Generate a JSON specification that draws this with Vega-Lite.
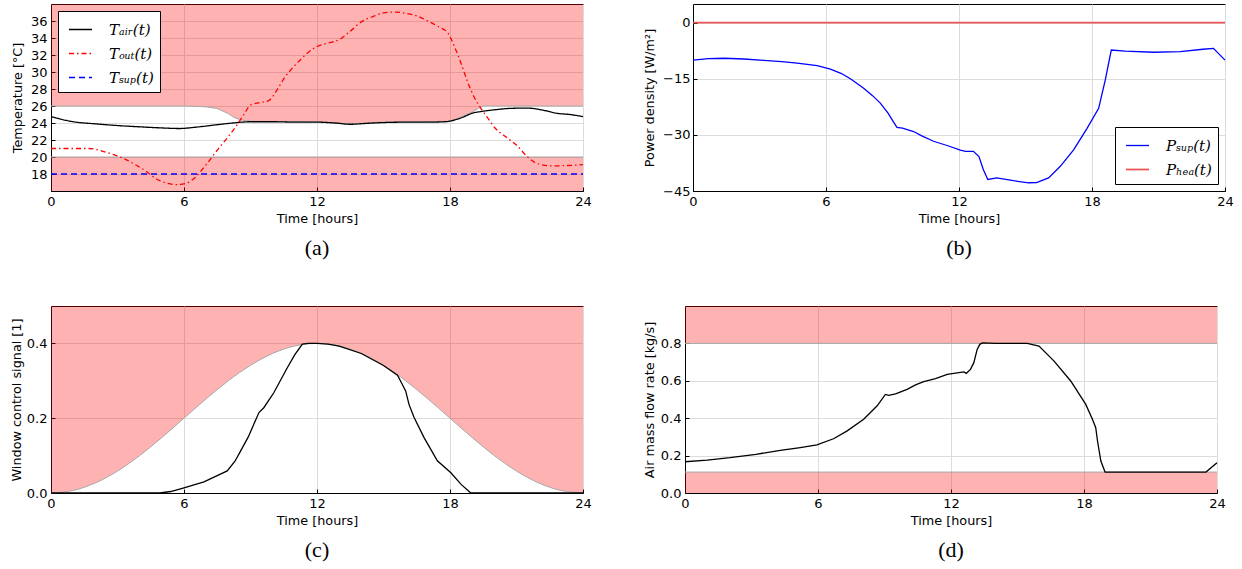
{
  "$schema": "https://vega.github.io/schema/vega-lite/v6.json",
  "padding": {"left": 9, "top": 3, "right": 5, "bottom": 0},
  "background": "white",
  "config": {
    "font": "DejaVu Sans",
    "view": {"stroke": "black", "strokeWidth": 1},
    "axis": {
      "domainColor": "black", "domainWidth": 1,
      "gridColor": "#dcdcdc", "gridWidth": 1,
      "ticks": true, "tickSize": -4, "tickColor": "black", "tickWidth": 1,
      "labelFontSize": 13, "labelColor": "black", "labelPadding": 8,
      "labelFlush": false, "labelOverlap": false, "labelBound": false, "labelSeparation": 0,
      "titleFontSize": 12.8, "titleFontWeight": "normal", "titleColor": "black"
    },
    "axisY": {"labelOverlap": false},
    "axisX": {"titlePadding": 4},
    "title": {"font": "Liberation Serif", "fontSize": 22, "fontWeight": "normal", "orient": "bottom", "anchor": "middle", "offset": 13, "color": "black"},
    "legend": {
      "fillColor": "white", "strokeColor": "black", "padding": 6,
      "labelFont": "DejaVu Serif", "labelFontStyle": "italic", "labelFontSize": 15,
      "symbolType": "stroke", "symbolSize": 530, "symbolStrokeWidth": 1.3, "symbolOffset": 4,
      "rowPadding": 3, "labelOffset": 16, "labelColor": "black"
    }
  },
  "resolve": {"scale": {"color": "independent", "strokeDash": "independent", "strokeWidth": "independent"}, "legend": {"color": "independent", "strokeDash": "independent"}},
  "datasets": {
    "a_upper": [
      {"hour": 0, "lo": 26}, {"hour": 6, "lo": 26}, {"hour": 7, "lo": 25.9}, {"hour": 7.5, "lo": 25.7},
      {"hour": 8, "lo": 25.1}, {"hour": 8.3, "lo": 24.6}, {"hour": 8.6, "lo": 24.35}, {"hour": 9, "lo": 24.2},
      {"hour": 12, "lo": 24.15}, {"hour": 13.5, "lo": 23.9}, {"hour": 15, "lo": 24.1}, {"hour": 18, "lo": 24.2},
      {"hour": 18.5, "lo": 24.7}, {"hour": 19, "lo": 25.3}, {"hour": 19.3, "lo": 25.75}, {"hour": 19.5, "lo": 26},
      {"hour": 24, "lo": 26}
    ],
    "a_lower": [{"hour": 0, "lo": 16, "hi": 20}, {"hour": 24, "lo": 16, "hi": 20}],
    "a_lines": [
      {"hour": 0, "value": 24.75, "series": "Tₐᵢᵣ(t)"}, {"hour": 1, "value": 24.15, "series": "Tₐᵢᵣ(t)"},
      {"hour": 2, "value": 23.9, "series": "Tₐᵢᵣ(t)"}, {"hour": 3, "value": 23.7, "series": "Tₐᵢᵣ(t)"},
      {"hour": 4, "value": 23.55, "series": "Tₐᵢᵣ(t)"}, {"hour": 5, "value": 23.42, "series": "Tₐᵢᵣ(t)"},
      {"hour": 5.8, "value": 23.35, "series": "Tₐᵢᵣ(t)"}, {"hour": 6.5, "value": 23.5, "series": "Tₐᵢᵣ(t)"},
      {"hour": 7.5, "value": 23.8, "series": "Tₐᵢᵣ(t)"}, {"hour": 8.2, "value": 24.0, "series": "Tₐᵢᵣ(t)"},
      {"hour": 9, "value": 24.15, "series": "Tₐᵢᵣ(t)"}, {"hour": 10, "value": 24.15, "series": "Tₐᵢᵣ(t)"},
      {"hour": 11, "value": 24.1, "series": "Tₐᵢᵣ(t)"}, {"hour": 12, "value": 24.1, "series": "Tₐᵢᵣ(t)"},
      {"hour": 12.8, "value": 24.0, "series": "Tₐᵢᵣ(t)"}, {"hour": 13.5, "value": 23.85, "series": "Tₐᵢᵣ(t)"},
      {"hour": 14.2, "value": 23.95, "series": "Tₐᵢᵣ(t)"}, {"hour": 15, "value": 24.05, "series": "Tₐᵢᵣ(t)"},
      {"hour": 16, "value": 24.1, "series": "Tₐᵢᵣ(t)"}, {"hour": 17, "value": 24.1, "series": "Tₐᵢᵣ(t)"},
      {"hour": 17.8, "value": 24.15, "series": "Tₐᵢᵣ(t)"}, {"hour": 18.2, "value": 24.35, "series": "Tₐᵢᵣ(t)"},
      {"hour": 18.6, "value": 24.7, "series": "Tₐᵢᵣ(t)"}, {"hour": 19, "value": 25.15, "series": "Tₐᵢᵣ(t)"},
      {"hour": 19.4, "value": 25.35, "series": "Tₐᵢᵣ(t)"}, {"hour": 20, "value": 25.55, "series": "Tₐᵢᵣ(t)"},
      {"hour": 20.8, "value": 25.73, "series": "Tₐᵢᵣ(t)"}, {"hour": 21.5, "value": 25.75, "series": "Tₐᵢᵣ(t)"},
      {"hour": 22.3, "value": 25.45, "series": "Tₐᵢᵣ(t)"}, {"hour": 22.8, "value": 25.15, "series": "Tₐᵢᵣ(t)"},
      {"hour": 23.4, "value": 25.0, "series": "Tₐᵢᵣ(t)"}, {"hour": 24, "value": 24.75, "series": "Tₐᵢᵣ(t)"},
      {"hour": 0, "value": 21.0, "series": "Tₒᵤₜ(t)"}, {"hour": 1, "value": 21.0, "series": "Tₒᵤₜ(t)"},
      {"hour": 1.7, "value": 21.0, "series": "Tₒᵤₜ(t)"}, {"hour": 2.3, "value": 20.7, "series": "Tₒᵤₜ(t)"},
      {"hour": 2.8, "value": 20.3, "series": "Tₒᵤₜ(t)"}, {"hour": 3.3, "value": 19.8, "series": "Tₒᵤₜ(t)"},
      {"hour": 3.8, "value": 19.1, "series": "Tₒᵤₜ(t)"}, {"hour": 4.3, "value": 18.3, "series": "Tₒᵤₜ(t)"},
      {"hour": 4.7, "value": 17.5, "series": "Tₒᵤₜ(t)"}, {"hour": 5.2, "value": 16.95, "series": "Tₒᵤₜ(t)"},
      {"hour": 5.7, "value": 16.75, "series": "Tₒᵤₜ(t)"}, {"hour": 6.1, "value": 16.9, "series": "Tₒᵤₜ(t)"},
      {"hour": 6.5, "value": 17.6, "series": "Tₒᵤₜ(t)"}, {"hour": 7.0, "value": 19.1, "series": "Tₒᵤₜ(t)"},
      {"hour": 7.5, "value": 20.8, "series": "Tₒᵤₜ(t)"}, {"hour": 8.0, "value": 22.4, "series": "Tₒᵤₜ(t)"},
      {"hour": 8.4, "value": 23.8, "series": "Tₒᵤₜ(t)"}, {"hour": 8.7, "value": 25.0, "series": "Tₒᵤₜ(t)"},
      {"hour": 9.0, "value": 26.1, "series": "Tₒᵤₜ(t)"}, {"hour": 9.4, "value": 26.4, "series": "Tₒᵤₜ(t)"},
      {"hour": 9.8, "value": 26.6, "series": "Tₒᵤₜ(t)"}, {"hour": 10.2, "value": 27.9, "series": "Tₒᵤₜ(t)"},
      {"hour": 10.5, "value": 29.2, "series": "Tₒᵤₜ(t)"}, {"hour": 10.8, "value": 30.2, "series": "Tₒᵤₜ(t)"},
      {"hour": 11.2, "value": 31.3, "series": "Tₒᵤₜ(t)"}, {"hour": 11.6, "value": 32.3, "series": "Tₒᵤₜ(t)"},
      {"hour": 12.0, "value": 33.0, "series": "Tₒᵤₜ(t)"}, {"hour": 12.5, "value": 33.4, "series": "Tₒᵤₜ(t)"},
      {"hour": 13.0, "value": 33.8, "series": "Tₒᵤₜ(t)"}, {"hour": 13.5, "value": 34.8, "series": "Tₒᵤₜ(t)"},
      {"hour": 14.0, "value": 35.9, "series": "Tₒᵤₜ(t)"}, {"hour": 14.5, "value": 36.5, "series": "Tₒᵤₜ(t)"},
      {"hour": 15.0, "value": 36.95, "series": "Tₒᵤₜ(t)"}, {"hour": 15.5, "value": 37.05, "series": "Tₒᵤₜ(t)"},
      {"hour": 16.0, "value": 36.9, "series": "Tₒᵤₜ(t)"}, {"hour": 16.5, "value": 36.6, "series": "Tₒᵤₜ(t)"},
      {"hour": 17.0, "value": 36.0, "series": "Tₒᵤₜ(t)"}, {"hour": 17.5, "value": 35.3, "series": "Tₒᵤₜ(t)"},
      {"hour": 17.9, "value": 34.6, "series": "Tₒᵤₜ(t)"}, {"hour": 18.2, "value": 33.0, "series": "Tₒᵤₜ(t)"},
      {"hour": 18.5, "value": 31.0, "series": "Tₒᵤₜ(t)"}, {"hour": 18.8, "value": 28.8, "series": "Tₒᵤₜ(t)"},
      {"hour": 19.1, "value": 27.0, "series": "Tₒᵤₜ(t)"}, {"hour": 19.4, "value": 25.7, "series": "Tₒᵤₜ(t)"},
      {"hour": 19.7, "value": 24.6, "series": "Tₒᵤₜ(t)"}, {"hour": 20.0, "value": 23.5, "series": "Tₒᵤₜ(t)"},
      {"hour": 20.5, "value": 22.4, "series": "Tₒᵤₜ(t)"}, {"hour": 21.0, "value": 21.4, "series": "Tₒᵤₜ(t)"},
      {"hour": 21.5, "value": 20.0, "series": "Tₒᵤₜ(t)"}, {"hour": 21.8, "value": 19.4, "series": "Tₒᵤₜ(t)"},
      {"hour": 22.2, "value": 19.05, "series": "Tₒᵤₜ(t)"}, {"hour": 22.7, "value": 18.95, "series": "Tₒᵤₜ(t)"},
      {"hour": 23.3, "value": 19.0, "series": "Tₒᵤₜ(t)"}, {"hour": 24.0, "value": 19.1, "series": "Tₒᵤₜ(t)"},
      {"hour": 0, "value": 18, "series": "Tₛᵤₚ(t)"}, {"hour": 24, "value": 18, "series": "Tₛᵤₚ(t)"}
    ],
    "b_lines": [
      {"hour": 0, "value": -10.0, "series": "Pₛᵤₚ(t)"}, {"hour": 0.7, "value": -9.6, "series": "Pₛᵤₚ(t)"},
      {"hour": 1.4, "value": -9.5, "series": "Pₛᵤₚ(t)"}, {"hour": 2.3, "value": -9.7, "series": "Pₛᵤₚ(t)"},
      {"hour": 3.2, "value": -10.1, "series": "Pₛᵤₚ(t)"}, {"hour": 4.0, "value": -10.4, "series": "Pₛᵤₚ(t)"},
      {"hour": 4.7, "value": -10.8, "series": "Pₛᵤₚ(t)"}, {"hour": 5.6, "value": -11.5, "series": "Pₛᵤₚ(t)"},
      {"hour": 6.2, "value": -12.4, "series": "Pₛᵤₚ(t)"}, {"hour": 6.7, "value": -13.6, "series": "Pₛᵤₚ(t)"},
      {"hour": 7.1, "value": -15.0, "series": "Pₛᵤₚ(t)"}, {"hour": 7.7, "value": -17.5, "series": "Pₛᵤₚ(t)"},
      {"hour": 8.1, "value": -19.5, "series": "Pₛᵤₚ(t)"}, {"hour": 8.45, "value": -21.5, "series": "Pₛᵤₚ(t)"},
      {"hour": 8.8, "value": -24.2, "series": "Pₛᵤₚ(t)"}, {"hour": 9.05, "value": -26.6, "series": "Pₛᵤₚ(t)"},
      {"hour": 9.2, "value": -28.0, "series": "Pₛᵤₚ(t)"}, {"hour": 9.45, "value": -28.2, "series": "Pₛᵤₚ(t)"},
      {"hour": 9.95, "value": -29.1, "series": "Pₛᵤₚ(t)"}, {"hour": 10.3, "value": -30.2, "series": "Pₛᵤₚ(t)"},
      {"hour": 10.85, "value": -31.7, "series": "Pₛᵤₚ(t)"}, {"hour": 11.5, "value": -32.9, "series": "Pₛᵤₚ(t)"},
      {"hour": 12.06, "value": -34.1, "series": "Pₛᵤₚ(t)"}, {"hour": 12.3, "value": -34.4, "series": "Pₛᵤₚ(t)"},
      {"hour": 12.65, "value": -34.4, "series": "Pₛᵤₚ(t)"}, {"hour": 12.9, "value": -35.8, "series": "Pₛᵤₚ(t)"},
      {"hour": 13.1, "value": -39.3, "series": "Pₛᵤₚ(t)"}, {"hour": 13.3, "value": -41.9, "series": "Pₛᵤₚ(t)"},
      {"hour": 13.7, "value": -41.5, "series": "Pₛᵤₚ(t)"}, {"hour": 14.46, "value": -42.25, "series": "Pₛᵤₚ(t)"},
      {"hour": 15.14, "value": -42.8, "series": "Pₛᵤₚ(t)"}, {"hour": 15.5, "value": -42.75, "series": "Pₛᵤₚ(t)"},
      {"hour": 16.04, "value": -41.5, "series": "Pₛᵤₚ(t)"}, {"hour": 16.57, "value": -38.4, "series": "Pₛᵤₚ(t)"},
      {"hour": 17.17, "value": -34.0, "series": "Pₛᵤₚ(t)"}, {"hour": 17.77, "value": -28.3, "series": "Pₛᵤₚ(t)"},
      {"hour": 18.3, "value": -22.9, "series": "Pₛᵤₚ(t)"}, {"hour": 18.6, "value": -15.3, "series": "Pₛᵤₚ(t)"},
      {"hour": 18.87, "value": -7.3, "series": "Pₛᵤₚ(t)"}, {"hour": 19.5, "value": -7.6, "series": "Pₛᵤₚ(t)"},
      {"hour": 20.78, "value": -7.9, "series": "Pₛᵤₚ(t)"}, {"hour": 21.98, "value": -7.75, "series": "Pₛᵤₚ(t)"},
      {"hour": 23.0, "value": -7.1, "series": "Pₛᵤₚ(t)"}, {"hour": 23.48, "value": -6.85, "series": "Pₛᵤₚ(t)"},
      {"hour": 24.0, "value": -10.0, "series": "Pₛᵤₚ(t)"},
      {"hour": 0, "value": 0, "series": "Pₕₑₐ(t)"}, {"hour": 24, "value": 0, "series": "Pₕₑₐ(t)"}
    ],
    "c_bound": [
      {"hour": 0, "lo": 0}, {"hour": 1, "lo": 0.0068}, {"hour": 2, "lo": 0.0268}, {"hour": 3, "lo": 0.0586},
      {"hour": 4, "lo": 0.1}, {"hour": 5, "lo": 0.1482}, {"hour": 6, "lo": 0.2}, {"hour": 7, "lo": 0.2518},
      {"hour": 8, "lo": 0.3}, {"hour": 9, "lo": 0.3414}, {"hour": 10, "lo": 0.3732}, {"hour": 11, "lo": 0.3932},
      {"hour": 12, "lo": 0.4}, {"hour": 13, "lo": 0.3932}, {"hour": 14, "lo": 0.3732}, {"hour": 15, "lo": 0.3414},
      {"hour": 16, "lo": 0.3}, {"hour": 17, "lo": 0.2518}, {"hour": 18, "lo": 0.2}, {"hour": 19, "lo": 0.1482},
      {"hour": 20, "lo": 0.1}, {"hour": 21, "lo": 0.0586}, {"hour": 22, "lo": 0.0268}, {"hour": 23, "lo": 0.0068},
      {"hour": 24, "lo": 0}
    ],
    "c_line": [
      {"hour": 0, "value": 0}, {"hour": 4.9, "value": 0}, {"hour": 5.4, "value": 0.004}, {"hour": 6.0, "value": 0.014},
      {"hour": 6.9, "value": 0.03}, {"hour": 7.95, "value": 0.059}, {"hour": 8.3, "value": 0.085}, {"hour": 8.55, "value": 0.112},
      {"hour": 8.9, "value": 0.15}, {"hour": 9.15, "value": 0.184}, {"hour": 9.38, "value": 0.215}, {"hour": 9.6, "value": 0.228},
      {"hour": 10.05, "value": 0.268}, {"hour": 10.66, "value": 0.335}, {"hour": 11.0, "value": 0.37}, {"hour": 11.34, "value": 0.398},
      {"hour": 11.6, "value": 0.4}, {"hour": 12.0, "value": 0.4}, {"hour": 12.5, "value": 0.398}, {"hour": 13, "value": 0.393},
      {"hour": 14, "value": 0.373}, {"hour": 15, "value": 0.341}, {"hour": 15.63, "value": 0.315}, {"hour": 15.85, "value": 0.29},
      {"hour": 16.0, "value": 0.273}, {"hour": 16.15, "value": 0.237}, {"hour": 16.38, "value": 0.202}, {"hour": 16.83, "value": 0.148},
      {"hour": 17.43, "value": 0.086}, {"hour": 18.04, "value": 0.054}, {"hour": 18.5, "value": 0.023}, {"hour": 18.94, "value": 0},
      {"hour": 24, "value": 0}
    ],
    "d_bands": [
      {"hour": 0, "lo": 0.8, "hi": 1.0, "band": "upper"}, {"hour": 24, "lo": 0.8, "hi": 1.0, "band": "upper"},
      {"hour": 0, "lo": 0.112, "hi": 0, "band": "lower"}, {"hour": 24, "lo": 0.112, "hi": 0, "band": "lower"}
    ],
    "d_line": [
      {"hour": 0, "value": 0.167}, {"hour": 1, "value": 0.176}, {"hour": 2.03, "value": 0.189}, {"hour": 3.2, "value": 0.207},
      {"hour": 4.3, "value": 0.228}, {"hour": 5.2, "value": 0.243}, {"hour": 5.95, "value": 0.257}, {"hour": 6.7, "value": 0.29},
      {"hour": 7.3, "value": 0.331}, {"hour": 8.06, "value": 0.394}, {"hour": 8.66, "value": 0.465}, {"hour": 9.04, "value": 0.527},
      {"hour": 9.19, "value": 0.522}, {"hour": 9.5, "value": 0.53}, {"hour": 10.02, "value": 0.554}, {"hour": 10.4, "value": 0.578},
      {"hour": 10.77, "value": 0.595}, {"hour": 11.3, "value": 0.612}, {"hour": 11.83, "value": 0.634}, {"hour": 12.05, "value": 0.638},
      {"hour": 12.58, "value": 0.648}, {"hour": 12.69, "value": 0.64}, {"hour": 12.88, "value": 0.661}, {"hour": 13.03, "value": 0.697},
      {"hour": 13.18, "value": 0.768}, {"hour": 13.3, "value": 0.795}, {"hour": 13.41, "value": 0.803}, {"hour": 14, "value": 0.8},
      {"hour": 15.44, "value": 0.8}, {"hour": 15.97, "value": 0.786}, {"hour": 16.65, "value": 0.705}, {"hour": 17.4, "value": 0.599},
      {"hour": 18.08, "value": 0.474}, {"hour": 18.38, "value": 0.394}, {"hour": 18.53, "value": 0.349}, {"hour": 18.61, "value": 0.278},
      {"hour": 18.76, "value": 0.171}, {"hour": 18.95, "value": 0.112}, {"hour": 23.5, "value": 0.112}, {"hour": 24, "value": 0.162}
    ]
  },
  "spacing": 45,
  "vconcat": [
    {
      "spacing": 51,
      "resolve": {"scale": {"color": "independent", "strokeDash": "independent", "strokeWidth": "independent"}, "legend": {"color": "independent", "strokeDash": "independent"}},
      "hconcat": [
        {
          "width": 532, "height": 187,
          "title": "(a)",
          "layer": [
            {
              "data": {"name": "a_upper"},
              "mark": {"type": "area", "color": "#ff0000", "fillOpacity": 0.3, "line": {"color": "#a8a8a8", "strokeWidth": 1}},
              "encoding": {
                "x": {"field": "hour", "type": "quantitative", "scale": {"domain": [0, 24]}, "axis": {"values": [0, 6, 12, 18, 24], "title": "Time [hours]"}},
                "y": {"field": "lo", "type": "quantitative", "scale": {"domain": [16, 38]}, "axis": {"values": [18, 20, 22, 24, 26, 28, 30, 32, 34, 36], "labelOverlap": false, "title": "Temperature [°C]", "titlePadding": 6}},
                "y2": {"datum": 38}
              }
            },
            {
              "data": {"name": "a_lower"},
              "mark": {"type": "area", "color": "#ff0000", "fillOpacity": 0.3, "line": {"color": "#a8a8a8", "strokeWidth": 1}},
              "encoding": {
                "x": {"field": "hour", "type": "quantitative"},
                "y": {"field": "hi", "type": "quantitative", "axis": {"values": [18, 20, 22, 24, 26, 28, 30, 32, 34, 36], "labelOverlap": false, "title": "Temperature [°C]", "titlePadding": 6}},
                "y2": {"field": "lo"}
              }
            },
            {
              "data": {"name": "a_lines"},
              "mark": {"type": "line", "strokeWidth": 1.3, "interpolate": "monotone"},
              "encoding": {
                "x": {"field": "hour", "type": "quantitative"},
                "y": {"field": "value", "type": "quantitative", "axis": {"values": [18, 20, 22, 24, 26, 28, 30, 32, 34, 36], "labelOverlap": false, "title": "Temperature [°C]", "titlePadding": 6}},
                "order": {"field": "hour"},
                "color": {"field": "series", "type": "nominal", "scale": {"domain": ["Tₐᵢᵣ(t)", "Tₒᵤₜ(t)", "Tₛᵤₚ(t)"], "range": ["#000000", "#ff0000", "#0000ff"]}, "legend": {"orient": "top-left", "offset": 7, "title": null}},
                "strokeDash": {"field": "series", "type": "nominal", "scale": {"domain": ["Tₐᵢᵣ(t)", "Tₒᵤₜ(t)", "Tₛᵤₚ(t)"], "range": [[1, 0], [5, 3, 1.5, 3], [6, 4]]}, "legend": {"orient": "top-left", "offset": 7, "title": null}}
              }
            }
          ]
        },
        {
          "width": 532, "height": 187,
          "title": "(b)",
          "layer": [
            {
              "data": {"name": "b_lines"},
              "mark": {"type": "line"},
              "encoding": {
                "x": {"field": "hour", "type": "quantitative", "scale": {"domain": [0, 24]}, "axis": {"values": [0, 6, 12, 18, 24], "title": "Time [hours]"}},
                "y": {"field": "value", "type": "quantitative", "scale": {"domain": [-45, 5]}, "axis": {"values": [-45, -30, -15, 0], "labelOverlap": false, "title": "Power density [W/m²]", "labelPadding": 7, "titlePadding": 6}},
                "order": {"field": "hour"},
                "color": {"field": "series", "type": "nominal", "scale": {"domain": ["Pₛᵤₚ(t)", "Pₕₑₐ(t)"], "range": ["#0000ff", "#ec5656"]}, "legend": {"orient": "bottom-right", "offset": 7, "title": null}},
                "strokeWidth": {"field": "series", "type": "nominal", "scale": {"domain": ["Pₛᵤₚ(t)", "Pₕₑₐ(t)"], "range": [1.3, 1.8]}, "legend": null}
              }
            }
          ]
        }
      ]
    },
    {
      "spacing": 50,
      "resolve": {"scale": {"color": "independent", "strokeDash": "independent"}},
      "hconcat": [
        {
          "width": 532, "height": 187,
          "title": "(c)",
          "layer": [
            {
              "data": {"name": "c_bound"},
              "mark": {"type": "area", "color": "#ff0000", "fillOpacity": 0.3, "interpolate": "monotone", "line": {"color": "#a8a8a8", "strokeWidth": 1}},
              "encoding": {
                "x": {"field": "hour", "type": "quantitative", "scale": {"domain": [0, 24]}, "axis": {"values": [0, 6, 12, 18, 24], "title": "Time [hours]"}},
                "y": {"field": "lo", "type": "quantitative", "scale": {"domain": [0, 0.5]}, "axis": {"values": [0, 0.2, 0.4], "format": ".1f", "title": "Window control signal [1]", "titlePadding": 3}},
                "y2": {"datum": 0.5}
              }
            },
            {
              "data": {"name": "c_line"},
              "mark": {"type": "line", "strokeWidth": 1.3, "color": "black"},
              "encoding": {
                "x": {"field": "hour", "type": "quantitative"},
                "y": {"field": "value", "type": "quantitative"},
                "order": {"field": "hour"}
              }
            }
          ]
        },
        {
          "width": 532, "height": 187,
          "title": "(d)",
          "layer": [
            {
              "data": {"name": "d_bands"},
              "mark": {"type": "area", "color": "#ff0000", "fillOpacity": 0.3, "line": {"color": "#a8a8a8", "strokeWidth": 1}},
              "encoding": {
                "x": {"field": "hour", "type": "quantitative", "scale": {"domain": [0, 24]}, "axis": {"values": [0, 6, 12, 18, 24], "title": "Time [hours]"}},
                "y": {"field": "lo", "type": "quantitative", "scale": {"domain": [0, 1.0]}, "axis": {"values": [0, 0.2, 0.4, 0.6, 0.8], "format": ".1f", "title": "Air mass flow rate [kg/s]", "titlePadding": 4}},
                "y2": {"field": "hi"},
                "detail": {"field": "band"}
              }
            },
            {
              "data": {"name": "d_line"},
              "mark": {"type": "line", "strokeWidth": 1.3, "color": "black"},
              "encoding": {
                "x": {"field": "hour", "type": "quantitative"},
                "y": {"field": "value", "type": "quantitative"},
                "order": {"field": "hour"}
              }
            }
          ]
        }
      ]
    }
  ]
}
